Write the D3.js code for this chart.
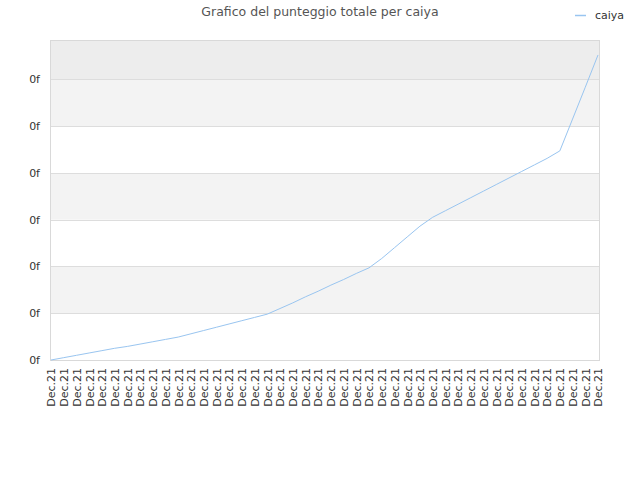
<!DOCTYPE html>
<html>
<head>
<meta charset="utf-8">
<script src="https://cdn.jsdelivr.net/npm/d3@7"></script>
<style>
  body { margin: 0; background: #fff; }
  text { font-family: "DejaVu Sans", sans-serif; }
</style>
</head>
<body>
<script>
// data
var title = 'Grafico del punteggio totale per caiya';
var seriesName = 'caiya';
var dates = [];
for (var k = 0; k < 44; k++) dates.push('Dec.21');
var scores = [0, 0.05, 0.10, 0.15, 0.20, 0.25, 0.29, 0.34, 0.39, 0.44,
              0.49, 0.56, 0.63, 0.70, 0.77, 0.84, 0.91, 0.98, 1.10, 1.22,
              1.35, 1.47, 1.60, 1.72, 1.85, 1.97, 2.17, 2.40, 2.63, 2.86,
              3.05, 3.19, 3.33, 3.47, 3.61, 3.75, 3.89, 4.03, 4.17, 4.31,
              4.47, 5.15, 5.83, 6.52];
var yTicks = [0, 1, 2, 3, 4, 5, 6];
var yTickLabels = ['0f', '0f', '0f', '0f', '0f', '0f', '0f'];

var width = 640;
var height = 480;
var margin = {top: 40, right: 40, bottom: 120, left: 51};
var plotW = width - margin.left - margin.right;
var plotH = height - margin.top - margin.bottom;

var svg = d3.select('body')
    .append('svg')
    .attr('width', width)
    .attr('height', height);

var x = d3.scalePoint()
    .domain(d3.range(dates.length))
    .range([0, plotW - 2]);

var y = d3.scaleLinear()
    .domain([0, 6.84])
    .range([plotH, 0]);

var g = svg.append('g')
    .attr('transform', 'translate(' + margin.left + ',' + margin.top + ')');

// alternating bands
var bandEdges = yTicks.concat([6.84]);
var bandColors = ['#ffffff', '#f3f3f3', '#ffffff', '#f3f3f3', '#ffffff', '#f3f3f3', '#ededed'];
g.selectAll('rect.band')
    .data(d3.range(bandEdges.length - 1))
    .enter().append('rect')
    .attr('class', 'band')
    .attr('x', 0)
    .attr('width', plotW)
    .attr('y', function(i) { return y(bandEdges[i + 1]); })
    .attr('height', function(i) { return y(bandEdges[i]) - y(bandEdges[i + 1]); })
    .attr('fill', function(i) { return bandColors[i]; });

// grid lines
g.selectAll('line.grid')
    .data(yTicks)
    .enter().append('line')
    .attr('x1', 0)
    .attr('x2', plotW)
    .attr('y1', function(d) { return Math.round(y(d)) + 0.5; })
    .attr('y2', function(d) { return Math.round(y(d)) + 0.5; })
    .attr('stroke', '#dddddd');

// frame
g.append('rect')
    .attr('x', -0.5)
    .attr('y', 0.5)
    .attr('width', plotW)
    .attr('height', plotH)
    .attr('fill', 'none')
    .attr('stroke', '#d9d9d9');

// y axis labels
var yAxis = d3.axisLeft(y)
    .tickValues(yTicks)
    .tickSize(0)
    .tickPadding(11)
    .tickFormat(function(d, i) { return yTickLabels[i]; });
var ya = g.append('g').call(yAxis);
ya.select('.domain').remove();
ya.selectAll('text')
    .attr('fill', '#333')
    .style('font-size', '11px')
    .style('font-family', '"DejaVu Sans", sans-serif');

// x axis labels
var xAxis = d3.axisBottom(x)
    .tickSize(0)
    .tickFormat(function(d) { return dates[d]; });
var xa = g.append('g')
    .attr('transform', 'translate(0,' + plotH + ')')
    .call(xAxis);
xa.select('.domain').remove();
xa.selectAll('text')
    .attr('fill', '#333')
    .style('font-size', '11px')
    .style('font-family', '"DejaVu Sans", sans-serif')
    .attr('text-anchor', 'end')
    .attr('dy', '0.35em')
    .attr('y', 0)
    .attr('transform', 'translate(0,8) rotate(-90)');

// line
var line = d3.line()
    .x(function(d, i) { return x(i); })
    .y(function(d) { return y(d); });

g.append('path')
    .datum(scores)
    .attr('d', line)
    .attr('fill', 'none')
    .attr('stroke', '#99c5f0')
    .attr('stroke-width', 1);

// title
svg.append('text')
    .attr('x', 320)
    .attr('y', 16)
    .attr('text-anchor', 'middle')
    .attr('fill', '#555')
    .style('font-size', '12.5px')
    .text(title);

// legend
svg.append('line')
    .attr('x1', 575)
    .attr('x2', 586)
    .attr('y1', 15.5)
    .attr('y2', 15.5)
    .attr('stroke', '#99c5f0')
    .attr('stroke-width', 1.5);
svg.append('text')
    .attr('x', 595)
    .attr('y', 19)
    .attr('fill', '#333')
    .style('font-size', '11px')
    .text(seriesName);
</script>
</body>
</html>
